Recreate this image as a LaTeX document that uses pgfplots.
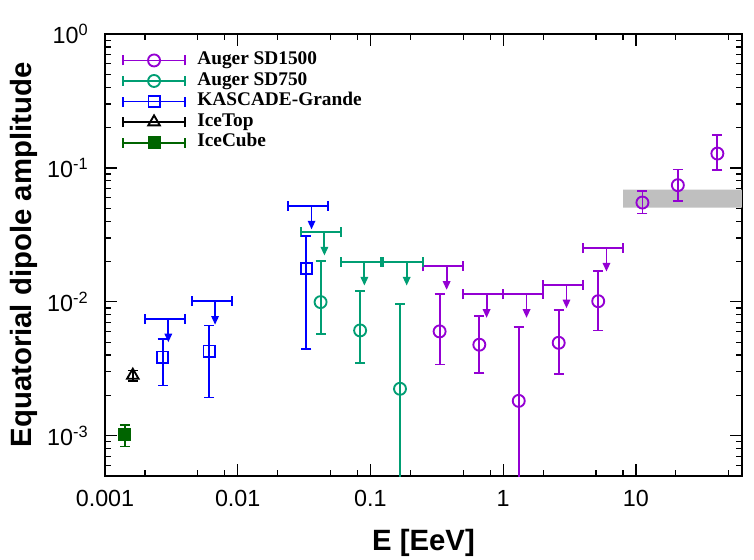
\documentclass[border=0pt]{standalone}
\usepackage{pgfplots}
\pgfplotsset{compat=1.18}
\usepackage{fontspec}
\usetikzlibrary{arrows.meta}
\newfontfamily\sansf{Liberation Sans}
\newfontfamily\seriff{Liberation Serif}
\definecolor{cPurple}{RGB}{148,0,211}
\definecolor{cGreen}{RGB}{0,158,115}
\definecolor{cBlue}{RGB}{0,0,255}
\definecolor{cDkGreen}{RGB}{0,100,0}
\definecolor{cBand}{RGB}{191,191,191}
\pgfplotsset{
  errstyle/.style={line width=1.4pt,
    error bars/error bar style={line width=1.4pt, solid},
    error bars/error mark options={rotate=90, mark size=3.75pt, line width=1.4pt, draw opacity=1}},
  ydata/.style={only marks, errstyle, error bars/y dir=both, error bars/y explicit},
  ulim/.style={only marks, mark=*, mark size=0pt, mark options={draw opacity=0, fill opacity=0}, forget plot, errstyle, error bars/x dir=both, error bars/x explicit},
  arr/.style={line width=1.4pt, mark=none, forget plot, -{Triangle[length=6.5pt,width=5.5pt]}},
}
\pgfplotstableread{
x y ep em
0.332 0.00601 0.00539 0.00261
0.661 0.00478 0.0030 0.00182
1.31 0.00182 0.00462 0.00181
2.62 0.00494 0.00379 0.00204
5.2 0.0101 0.0069 0.0040
11.2 0.0551 0.0119 0.0095
20.7 0.0743 0.0230 0.0176
41.1 0.128 0.047 0.032
}\sdfifteen
\pgfplotstableread{
x y ep em
0.0421 0.00995 0.01015 0.00418
0.0836 0.00611 0.00589 0.00261
0.167 0.00224 0.00744 0.00223
}\sdseven
\pgfplotstableread{
x y ep em
0.00272 0.00386 0.00144 0.00149
0.00608 0.00428 0.00237 0.00235
0.0329 0.0177 0.0131 0.01327
}\kg
\pgfplotstableread{
x y ep em
0.375 0.0184 0.125 0.125
0.75 0.01136 0.25 0.25
1.5 0.01136 0.5 0.5
3 0.0134 1 1
6 0.0252 2 2
}\sdfifteenul
\pgfplotstableread{
x y ep em
0.045 0.0332 0.015 0.015
0.09 0.0198 0.03 0.03
0.1875 0.0198 0.0625 0.0625
}\sdsevenul
\pgfplotstableread{
x y ep em
0.003 0.00747 0.001 0.001
0.00675 0.0101 0.00225 0.00225
0.036 0.052 0.012 0.012
}\kgul
\begin{document}
\begin{tikzpicture}
\begin{axis}[
  scale only axis, width=477.75pt, height=331.5pt,
  xmode=log, ymode=log,
  xmin=0.001, xmax=63, ymin=5e-4, ymax=1,
  xtick={0.001,0.01,0.1,1,10}, xticklabels={0.001,0.01,0.1,1,10},
  minor xtick={0.002,0.005,0.008,0.02,0.05,0.08,0.2,0.5,0.8,2,5,8,20,50},
  ytick={0.001,0.01,0.1,1},
  yticklabels={10\textsuperscript{-3},10\textsuperscript{-2},10\textsuperscript{-1},10\textsuperscript{0}},
  minor ytick={6e-4,7e-4,8e-4,9e-4,2e-3,3e-3,4e-3,5e-3,6e-3,7e-3,8e-3,9e-3,0.02,0.03,0.04,0.05,0.06,0.07,0.08,0.09,0.2,0.3,0.4,0.5,0.6,0.7,0.8,0.9},
  tick align=inside, major tick length=9pt, minor tick length=4.5pt,
  every tick/.style={line width=0.9pt, black},
  axis line style={line width=1.5pt},
  tick label style={font=\sansf\fontsize{17.5}{20}\selectfont},
  xticklabel style={yshift=-7pt},
  yticklabel style={xshift=-9pt},
  xlabel={E [EeV]}, ylabel={Equatorial dipole amplitude},
  label style={font=\sansf\bfseries\fontsize{22}{26}\selectfont},
  xlabel style={at={(rel axis cs:0.5,-0.1516)}, anchor=center},
  ylabel style={at={(rel axis cs:-0.1272,0.5)}, anchor=center},
  legend style={at={(0.027,0.964)}, anchor=north west, draw=none, fill=none, inner sep=0pt,
    font=\seriff\bfseries\fontsize{14.5}{17}\selectfont,
    nodes={inner sep=0.75pt, text height=10pt, text depth=3.9pt}, row sep=0pt,
    /tikz/every odd column/.append style={column sep=8pt}},
  legend cell align=left,
  legend image code/.code={
    \draw[#1, mark=none, solid] (0pt,0pt) -- (46pt,0pt);
    \draw[#1, mark=none, solid] (0pt,-3.75pt) -- (0pt,3.75pt);
    \draw[#1, mark=none, solid] (46pt,-3.75pt) -- (46pt,3.75pt);
    \draw[#1] plot coordinates {(23pt,0pt)};
  },
]
% grey band
\addplot[fill=cBand, draw=none, forget plot] coordinates {(8,0.0506) (63,0.0506) (63,0.0689) (8,0.0689) (8,0.0506)};

% upper limits
\addplot[ulim, cPurple] table[x=x, y=y, x error plus=ep, x error minus=em] {\sdfifteenul};
\addplot[ulim, cGreen] table[x=x, y=y, x error plus=ep, x error minus=em] {\sdsevenul};
\addplot[ulim, cBlue] table[x=x, y=y, x error plus=ep, x error minus=em] {\kgul};

\addplot[arr, cPurple] coordinates {(0.375,0.0184) (0.375,0.01227)};
\addplot[arr, cPurple] coordinates {(0.75,0.01136) (0.75,0.00758)};
\addplot[arr, cPurple] coordinates {(1.5,0.01136) (1.5,0.00758)};
\addplot[arr, cPurple] coordinates {(3,0.0134) (3,0.00894)};
\addplot[arr, cPurple] coordinates {(6,0.0252) (6,0.0168)};
\addplot[arr, cGreen] coordinates {(0.045,0.0332) (0.045,0.02214)};
\addplot[arr, cGreen] coordinates {(0.09,0.0198) (0.09,0.0132)};
\addplot[arr, cGreen] coordinates {(0.1875,0.0198) (0.1875,0.0132)};
\addplot[arr, cBlue] coordinates {(0.003,0.00747) (0.003,0.00498)};
\addplot[arr, cBlue] coordinates {(0.00675,0.0101) (0.00675,0.00674)};
\addplot[arr, cBlue] coordinates {(0.036,0.052) (0.036,0.0347)};

% data points
\addplot[ydata, cPurple, mark=o, mark size=4.5pt] table[x=x, y=y, y error plus=ep, y error minus=em] {\sdfifteen};
\addlegendentry{Auger SD1500}
\addplot[ydata, cGreen, mark=o, mark size=4.5pt] table[x=x, y=y, y error plus=ep, y error minus=em] {\sdseven};
\addlegendentry{Auger SD750}
\addplot[ydata, cBlue, mark=square, mark size=4.2pt, mark options={fill=white}] table[x=x, y=y, y error plus=ep, y error minus=em] {\kg};
\addlegendentry{KASCADE-Grande}
\addplot[ydata, black, mark=triangle, mark size=5pt] coordinates {(0.00162,0.00282) +- (0,0.00025)};
\addlegendentry{IceTop}
\addplot[ydata, cDkGreen, mark=square*, mark size=4.2pt] coordinates {(0.00141,0.00102) +- (0,0.00019)};
\addlegendentry{IceCube}
\end{axis}
\pgfresetboundingbox
\path (current axis.south west) ++(-78.75pt,-63pt) rectangle ([shift={(9pt,25.5pt)}]current axis.north east);
\end{tikzpicture}
\end{document}
